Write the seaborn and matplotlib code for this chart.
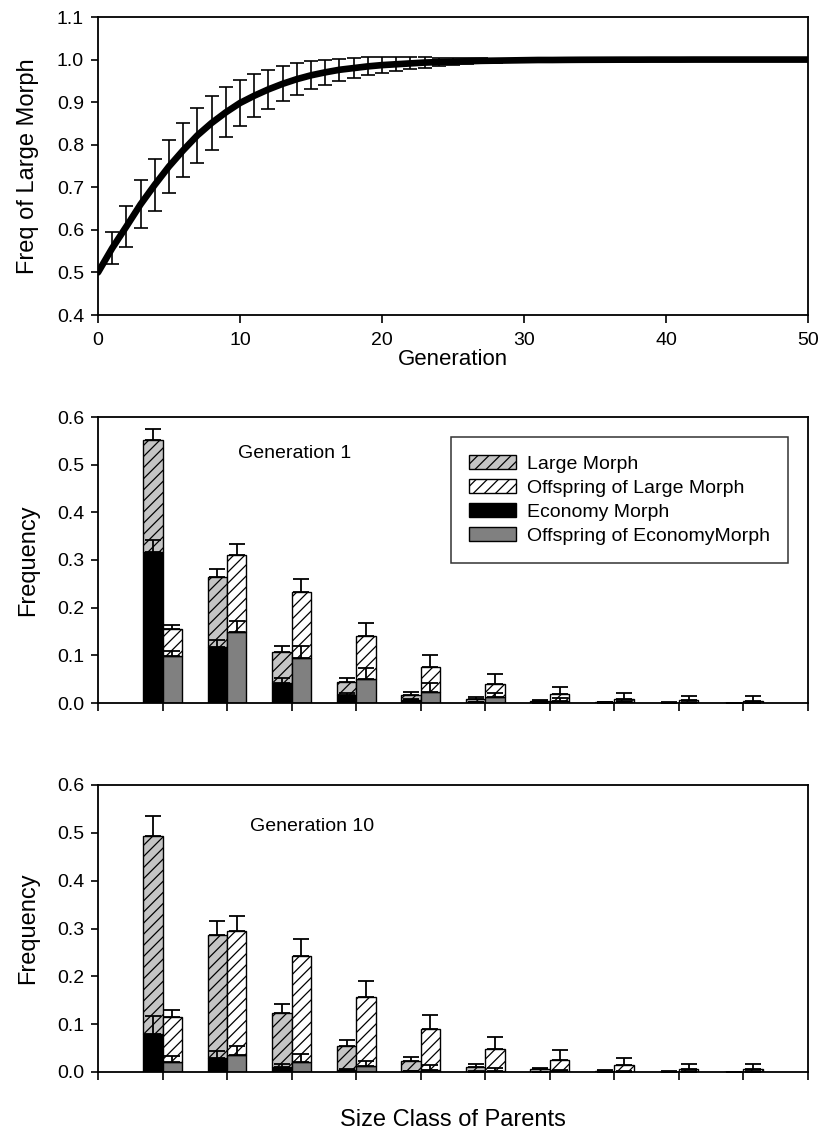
import matplotlib
matplotlib.use("Agg")
import matplotlib.pyplot as plt
from matplotlib.patches import Patch
import numpy as np
import pandas as pd
import seaborn as sns

sns.set_theme(style="ticks")
plt.rcParams["font.family"] = ["Liberation Sans", "DejaVu Sans"]
plt.rcParams["hatch.linewidth"] = 0.9
plt.rcParams["axes.linewidth"] = 1.3
for key in ["text.color", "axes.labelcolor", "xtick.color", "ytick.color",
            "axes.edgecolor"]:
    plt.rcParams[key] = "black"

# ---- Frequency of the large morph over generations ----
generations = list(range(0, 51))
freq_large = [0.500, 0.557, 0.608, 0.660, 0.706, 0.749, 0.787, 0.822, 0.851, 0.876,
              0.898, 0.915, 0.930, 0.943, 0.954, 0.963, 0.970, 0.976, 0.980, 0.984,
              0.987, 0.989, 0.991, 0.993, 0.994, 0.995, 0.996, 0.997, 0.9975, 0.998,
              0.9985, 0.999, 0.999, 0.9993, 0.9995, 0.9996, 0.9997, 0.9998, 0.9998, 0.9999,
              0.9999, 0.9999, 1.0, 1.0, 1.0, 1.0, 1.0, 1.0, 1.0, 1.0, 1.0]
sd_generations = list(range(1, 31))
freq_sd = [0.037, 0.048, 0.056, 0.061, 0.062, 0.064, 0.064, 0.063, 0.059, 0.054,
           0.050, 0.045, 0.041, 0.037, 0.033, 0.030, 0.026, 0.024, 0.021, 0.019,
           0.017, 0.014, 0.012, 0.010, 0.008, 0.007, 0.006, 0.005, 0.004, 0.003]

# ---- Size-class distributions ----
size_classes = list(range(1, 11))

# Generation 1
g1_economy = [0.316, 0.117, 0.042, 0.017, 0.006, 0.002, 0.001, 0.0005, 0.0002, 0.0001]
g1_economy_err = [0.025, 0.015, 0.010, 0.005, 0.003, 0.001, 0.0005, 0.0003, 0.0002, 0.0001]
g1_large = [0.235, 0.147, 0.064, 0.027, 0.011, 0.007, 0.003, 0.0015, 0.0008, 0.0004]
g1_large_err = [0.023, 0.018, 0.014, 0.008, 0.006, 0.004, 0.002, 0.001, 0.001, 0.0005]
g1_off_economy = [0.099, 0.149, 0.095, 0.051, 0.023, 0.012, 0.005, 0.002, 0.001, 0.001]
g1_off_economy_err = [0.010, 0.024, 0.025, 0.022, 0.018, 0.010, 0.005, 0.003, 0.002, 0.002]
g1_off_large = [0.057, 0.162, 0.138, 0.090, 0.052, 0.028, 0.014, 0.007, 0.005, 0.004]
g1_off_large_err = [0.008, 0.022, 0.028, 0.026, 0.025, 0.021, 0.014, 0.012, 0.008, 0.009]

# Generation 10
g10_economy = [0.0795, 0.030, 0.011, 0.004, 0.002, 0.001, 0.0005, 0.0002, 0.0001, 0.0001]
g10_economy_err = [0.037, 0.014, 0.005, 0.002, 0.001, 0.0005, 0.0003, 0.0002, 0.0001, 0.0001]
g10_large = [0.4145, 0.257, 0.112, 0.050, 0.021, 0.0095, 0.0055, 0.0028, 0.0009, 0.0004]
g10_large_err = [0.042, 0.029, 0.020, 0.012, 0.009, 0.0055, 0.003, 0.0015, 0.001, 0.0005]
g10_off_economy = [0.0216, 0.035, 0.0216, 0.012, 0.005, 0.003, 0.0015, 0.001, 0.0005, 0.0005]
g10_off_economy_err = [0.012, 0.019, 0.016, 0.012, 0.010, 0.005, 0.0025, 0.001, 0.001, 0.001]
g10_off_large = [0.0944, 0.259, 0.2214, 0.144, 0.085, 0.046, 0.0235, 0.013, 0.0055, 0.0055]
g10_off_large_err = [0.013, 0.032, 0.036, 0.034, 0.029, 0.024, 0.020, 0.016, 0.011, 0.011]

series_labels = ["Large Morph", "Offspring of Large Morph", "Economy Morph",
                 "Offspring of EconomyMorph"]

LARGE_STYLE = dict(facecolor="#c4c4c4", edgecolor="black", hatch="///", linewidth=1.0)
OFF_LARGE_STYLE = dict(facecolor="white", edgecolor="black", hatch="///", linewidth=1.0)
ECON_STYLE = dict(facecolor="black", edgecolor="black", linewidth=1.0)
OFF_ECON_STYLE = dict(facecolor="#808080", edgecolor="black", linewidth=1.0)

TICK_FS = 14
LABEL_FS = 17

W, H = 822, 1134
fig = plt.figure(figsize=(W / 100, H / 100), dpi=100)


def axes_px(left, top, right, bottom):
    return fig.add_axes([left / W, 1 - bottom / H, (right - left) / W, (bottom - top) / H])


def style_axes(ax):
    for s in ax.spines.values():
        s.set_visible(True)
        s.set_color("black")
        s.set_linewidth(1.3)
    ax.tick_params(axis="both", direction="out", colors="black", labelcolor="black",
                   labelsize=TICK_FS, width=1.2)
    ax.tick_params(axis="y", length=5, pad=5)
    ax.tick_params(axis="x", length=6, pad=6)
    ax.grid(False)
    ax.set_facecolor("white")


# ---- Top panel ----
ax0 = axes_px(98, 17, 808, 315)
curve = pd.DataFrame({"Generation": generations, "Freq": freq_large})
sns.lineplot(data=curve, x="Generation", y="Freq", color="black", linewidth=4.8,
             ax=ax0, zorder=3)
sd_idx = [generations.index(g) for g in sd_generations]
ax0.errorbar(sd_generations, [freq_large[i] for i in sd_idx], yerr=freq_sd,
             fmt="none", ecolor="black", elinewidth=1.2, capsize=5, capthick=1.2, zorder=2)
ax0.set_xlim(0, 50)
ax0.set_ylim(0.4, 1.1)
ax0.set_xticks(range(0, 51, 10))
ax0.set_yticks(np.arange(0.4, 1.101, 0.1))
ax0.set_yticklabels([f"{v:.1f}" for v in np.arange(0.4, 1.101, 0.1)])
ax0.set_xlabel("Generation", fontsize=16, labelpad=0)
ax0.set_ylabel("Freq of Large Morph", fontsize=LABEL_FS, labelpad=13)
style_axes(ax0)


def draw_bars(ax, econ, econ_err, large, large_err, off_econ, off_econ_err,
              off_large, off_large_err, title, title_xy):
    x = np.array(size_classes, dtype=float)
    w = 0.3
    xl = x - w / 2
    xr = x + w / 2
    econ = np.array(econ)
    large = np.array(large)
    off_econ = np.array(off_econ)
    off_large = np.array(off_large)
    ax.bar(xl, econ, width=w, zorder=2, **ECON_STYLE)
    ax.bar(xl, large, bottom=econ, width=w, zorder=2, **LARGE_STYLE)
    ax.bar(xr, off_econ, width=w, zorder=2, **OFF_ECON_STYLE)
    ax.bar(xr, off_large, bottom=off_econ, width=w, zorder=2, **OFF_LARGE_STYLE)
    z = np.zeros(len(x))
    eb = dict(fmt="none", ecolor="black", elinewidth=1.3, capsize=5.5, capthick=1.3, zorder=3)
    ax.errorbar(xl, econ, yerr=[z, econ_err], **eb)
    ax.errorbar(xl, econ + large, yerr=[z, large_err], **eb)
    ax.errorbar(xr, off_econ, yerr=[z, off_econ_err], **eb)
    ax.errorbar(xr, off_econ + off_large, yerr=[z, off_large_err], **eb)
    ax.set_xlim(0, 11)
    ax.set_ylim(0, 0.6)
    ax.set_xticks(range(0, 12))
    ax.set_xticklabels([])
    ax.set_yticks(np.arange(0, 0.601, 0.1))
    ax.set_yticklabels([f"{v:.1f}" for v in np.arange(0, 0.601, 0.1)])
    ax.set_ylabel("Frequency", fontsize=LABEL_FS, labelpad=13)
    ax.set_xlabel("")
    ax.text(title_xy[0], title_xy[1], title, fontsize=14, ha="center", va="center",
            color="black")
    style_axes(ax)


ax1 = axes_px(98, 417, 808, 703)
draw_bars(ax1, g1_economy, g1_economy_err, g1_large, g1_large_err,
          g1_off_economy, g1_off_economy_err, g1_off_large, g1_off_large_err,
          "Generation 1", (3.05, 0.524))

handles = [Patch(**LARGE_STYLE), Patch(**OFF_LARGE_STYLE), Patch(**ECON_STYLE),
           Patch(**OFF_ECON_STYLE)]
leg = ax1.legend(handles, series_labels, loc="upper right", bbox_to_anchor=(0.972, 0.930),
                 fontsize=14, frameon=True, fancybox=False, edgecolor="black",
                 handlelength=2.4, handleheight=0.7, handletextpad=0.55,
                 labelspacing=0.32, borderpad=0.95, borderaxespad=0.0)
leg.get_frame().set_linewidth(1.1)

ax2 = axes_px(98, 785, 808, 1072)
draw_bars(ax2, g10_economy, g10_economy_err, g10_large, g10_large_err,
          g10_off_economy, g10_off_economy_err, g10_off_large, g10_off_large_err,
          "Generation 10", (3.32, 0.513))

fig.text(453 / W, 1 - 1120 / H, "Size Class of Parents", fontsize=LABEL_FS,
         ha="center", va="center", color="black")

fig.savefig("out.png", dpi=100, facecolor="white")
